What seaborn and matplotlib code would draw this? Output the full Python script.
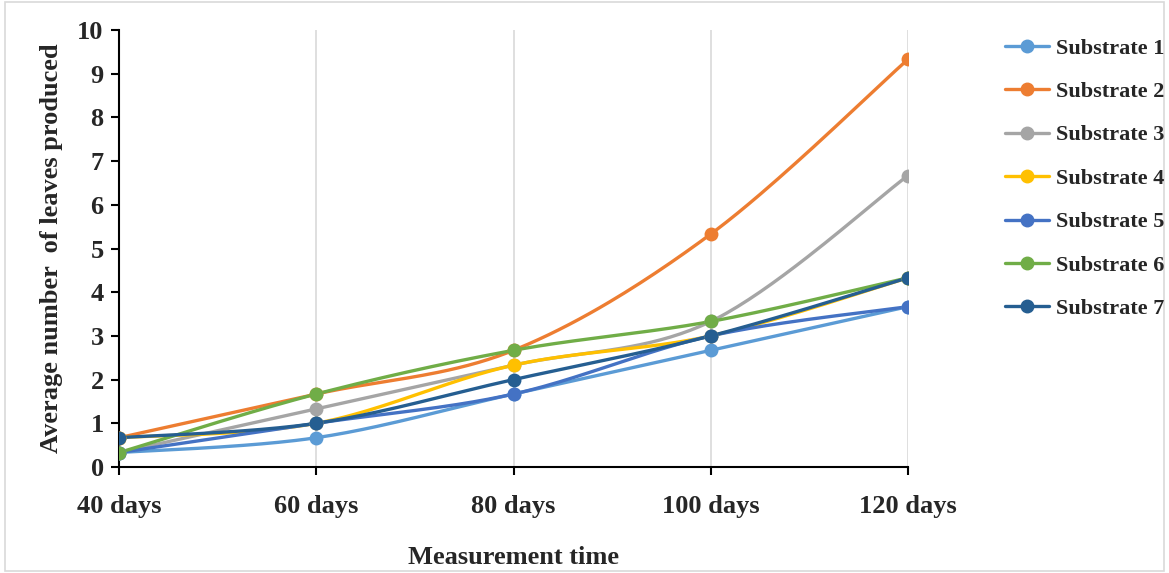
import numpy as np
import pandas as pd
import matplotlib
matplotlib.use("Agg")
import matplotlib.pyplot as plt
from matplotlib.lines import Line2D
import seaborn as sns

categories = ["40 days", "60 days", "80 days", "100 days", "120 days"]
series_names = ["Substrate 1", "Substrate 2", "Substrate 3", "Substrate 4",
                "Substrate 5", "Substrate 6", "Substrate 7"]
s1 = [0.33, 0.67, 1.67, 2.67, 3.67]
s2 = [0.67, 1.67, 2.67, 5.33, 9.33]
s3 = [0.33, 1.33, 2.33, 3.33, 6.67]
s4 = [0.67, 1.00, 2.33, 3.00, 4.33]
s5 = [0.33, 1.00, 1.67, 3.00, 3.67]
s6 = [0.33, 1.67, 2.67, 3.33, 4.33]
s7 = [0.67, 1.00, 2.00, 3.00, 4.33]
values = [s1, s2, s3, s4, s5, s6, s7]
colors = ["#5B9BD5", "#ED7D31", "#A5A5A5", "#FFC000", "#4472C4", "#70AD47", "#255E91"]

sns.set_style("white")
plt.rcParams["font.family"] = ["Liberation Serif", "DejaVu Serif"]
plt.rcParams["font.weight"] = "bold"

fig = plt.figure(figsize=(11.69, 5.73), dpi=100)
ax = fig.add_axes([119/1169, 1-467/573, (908-119)/1169, (467-30)/573])


def smooth(xs, ys, n=40):
    xs = np.asarray(xs, float); ys = np.asarray(ys, float)
    px = np.concatenate([[xs[0]], xs, [xs[-1]]])
    py = np.concatenate([[ys[0]], ys, [ys[-1]]])
    ox, oy = [], []
    t = np.linspace(0, 1, n)
    for i in range(1, len(px) - 2):
        p0 = np.array([px[i], py[i]]); p3 = np.array([px[i+1], py[i+1]])
        p1 = p0 + (np.array([px[i+1], py[i+1]]) - np.array([px[i-1], py[i-1]])) / 6
        p2 = p3 - (np.array([px[i+2], py[i+2]]) - np.array([px[i], py[i]])) / 6
        b = ((1-t)**3)[:, None]*p0 + (3*(1-t)**2*t)[:, None]*p1 + (3*(1-t)*t**2)[:, None]*p2 + (t**3)[:, None]*p3
        ox.extend(b[:, 0]); oy.extend(b[:, 1])
    return np.array(ox), np.array(oy)


xpos = np.arange(len(categories))
for name, vals, c in zip(series_names, values, colors):
    sx, sy = smooth(xpos, vals)
    sns.lineplot(x=sx, y=sy, color=c, linewidth=2.4, ax=ax, sort=False, estimator=None, zorder=3)
    sns.scatterplot(x=xpos, y=vals, color=c, s=100, edgecolor=c, linewidth=0, ax=ax, zorder=4)

ax.set_xlim(0, 4)
ax.set_ylim(0, 10)
ax.set_yticks(range(0, 11))
ax.set_xticks(xpos)
ax.set_xticklabels(categories, fontsize=19, fontweight="bold")
ax.set_yticklabels([str(i) for i in range(11)], fontsize=19, fontweight="bold")
ax.xaxis.grid(True, color="#D9D9D9", linewidth=1.2)
ax.yaxis.grid(False)
ax.set_axisbelow(True)
for s in ["top", "right"]:
    ax.spines[s].set_visible(False)
for s in ["left", "bottom"]:
    ax.spines[s].set_color("black")
    ax.spines[s].set_linewidth(1.5)
ax.tick_params(axis="both", direction="out", length=6, width=1.5, color="black", left=True, bottom=True)
ax.tick_params(axis="x", pad=14)
ax.tick_params(axis="y", pad=5)
ax.set_xlabel("Measurement time", fontsize=19, fontweight="bold", labelpad=20)
ax.set_ylabel("Average number  of leaves produced", fontsize=19, fontweight="bold", labelpad=10)

handles = [Line2D([0], [0], color=c, linewidth=2.4, marker="o", markersize=9) for c in colors]
leg = fig.legend(handles, series_names, loc="upper left", bbox_to_anchor=(1005/1169, 1-38/573),
                 frameon=False, prop={"family": "Liberation Serif", "weight": "bold", "size": 16},
                 handlelength=2.0, labelspacing=1.03, handletextpad=0.3, borderaxespad=0,
                 borderpad=0)

fig.patches.append(plt.Rectangle((0.004, 0.004), 0.992, 0.992, transform=fig.transFigure,
                                 fill=False, edgecolor="#D9D9D9", linewidth=1.2))
fig.savefig("out.png", dpi=100)
